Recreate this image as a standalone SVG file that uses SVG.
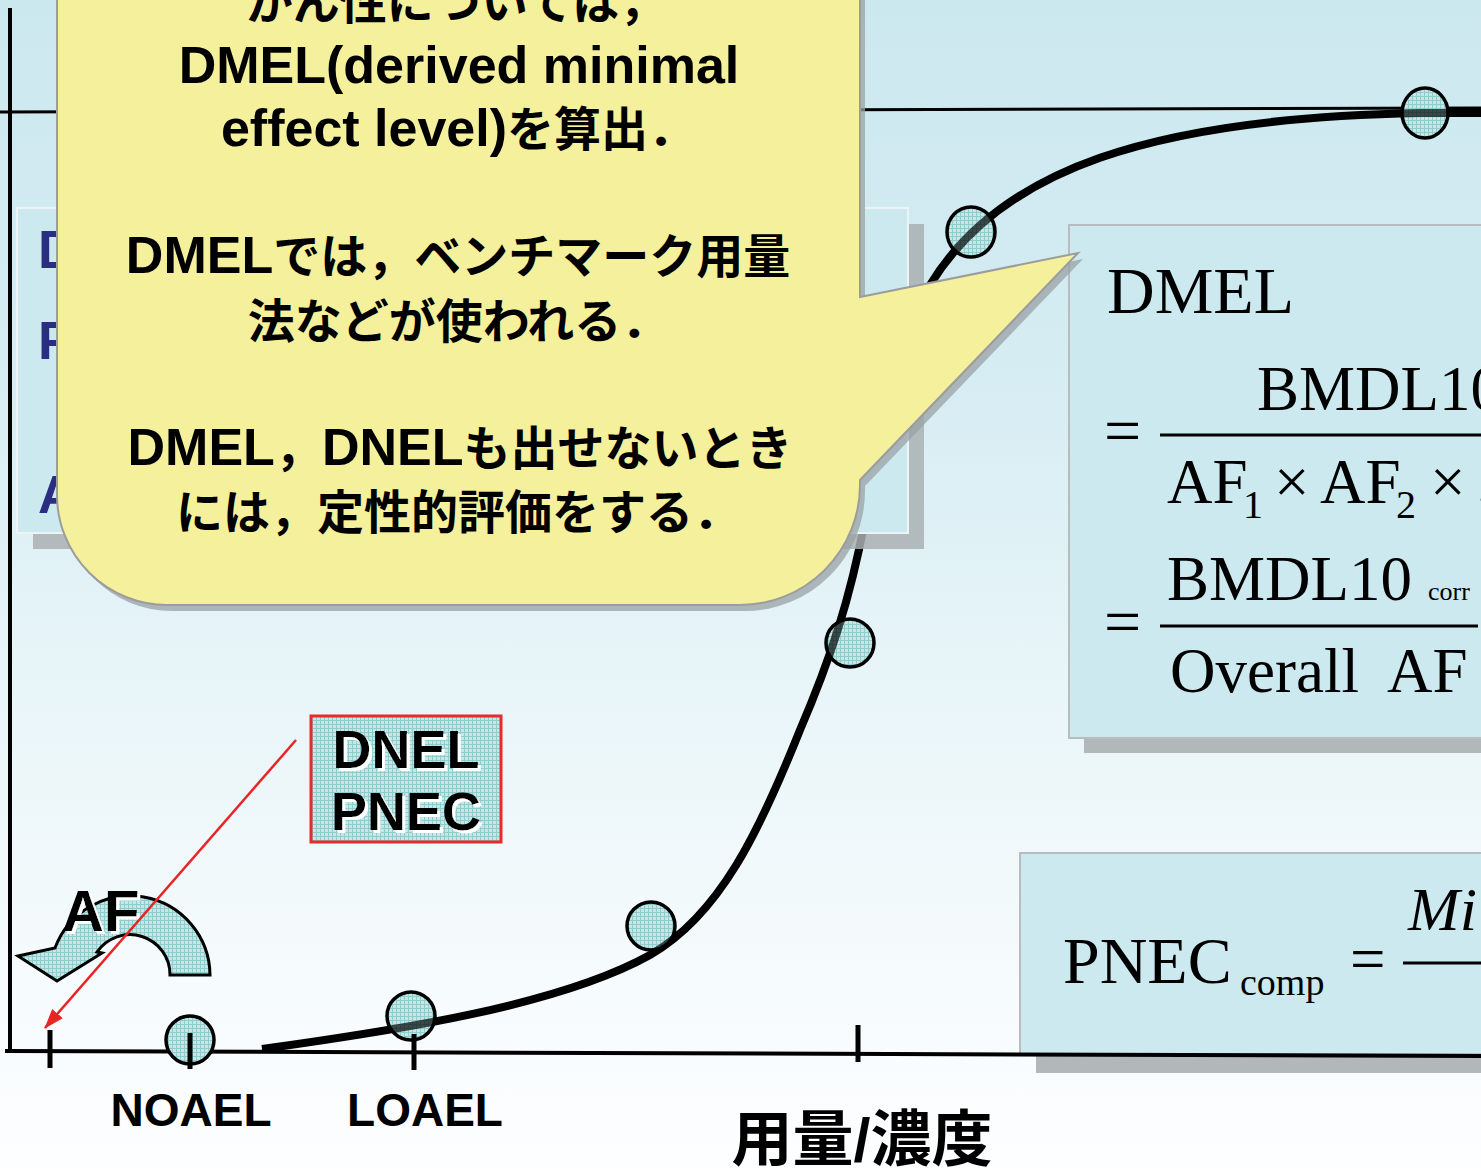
<svg xmlns="http://www.w3.org/2000/svg" width="1481" height="1168" viewBox="0 0 1481 1168">
<defs>
<linearGradient id="bg" x1="0" y1="0" x2="0" y2="1">
<stop offset="0" stop-color="#cce8ef"/>
<stop offset="0.3" stop-color="#d4ecf2"/>
<stop offset="0.55" stop-color="#e6f4f8"/>
<stop offset="0.8" stop-color="#f4fafc"/>
<stop offset="1" stop-color="#fdfeff"/>
</linearGradient>
<pattern id="chk" width="4" height="4" patternUnits="userSpaceOnUse">
<rect width="4" height="4" fill="#c6e7e7"/>
<rect width="4" height="1" fill="#8fcccc"/>
<rect width="1" height="4" fill="#8fcccc"/>
</pattern>
<filter id="whiteShadow" x="-10%" y="-10%" width="130%" height="130%">
<feDropShadow dx="3" dy="3" stdDeviation="0" flood-color="#ffffff" flood-opacity="1"/>
</filter>
<marker id="redhead" viewBox="0 0 20 14" markerWidth="20" markerHeight="14" refX="19" refY="7" orient="auto" markerUnits="userSpaceOnUse">
<path d="M0,0 L20,7 L0,14 Z" fill="#e82424"/>
</marker>
<style>
.ax { stroke:#000; stroke-width:4; fill:none; }
.tick { stroke:#000; stroke-width:5; }
.base { fill:url(#chk); }
.ovl { fill:url(#chk); fill-opacity:0.3; stroke:#000; stroke-width:3.5; }
.box { fill:#cde9f0; stroke:#b8bcbe; stroke-width:2; }
.shadow { fill:#b2b8ba; }
.bold { font-family:"Liberation Sans","Noto Sans CJK JP",sans-serif; font-weight:bold; }
.cj { font-size:47px; }
.serif { font-family:"Liberation Serif","Times New Roman",serif; fill:#000; }
.navy { fill:#2a2e82; }
</style>
</defs>

<rect x="0" y="0" width="1481" height="1168" fill="url(#bg)"/>

<g id="reference-line">
<line x1="0" y1="112" x2="1481" y2="108" stroke="#000" stroke-width="3"/>
</g>

<g id="pnec-box">
<rect class="shadow" x="1036" y="869" width="460" height="204"/>
<rect class="box" x="1020" y="853" width="470" height="201"/>
<text class="serif" x="1063" y="983" font-size="66">PNEC</text>
<text class="serif" x="1240" y="995" font-size="38">comp</text>
<text class="serif" x="1350" y="980" font-size="63">=</text>
<line x1="1403" y1="963" x2="1481" y2="963" stroke="#000" stroke-width="3"/>
<text class="serif" x="1408" y="930" font-size="62" font-style="italic">Mi</text>
</g>

<g id="axes">
<line class="ax" x1="10" y1="8" x2="10" y2="1053"/>
<line class="ax" x1="5" y1="1051" x2="1481" y2="1056"/>
</g>

<g id="points-base">
<ellipse class="base" cx="190" cy="1040" rx="24" ry="24"/>
<ellipse class="base" cx="411" cy="1016" rx="24" ry="24"/>
<ellipse class="base" cx="651" cy="926" rx="24" ry="24"/>
<ellipse class="base" cx="850" cy="643" rx="24" ry="24"/>
<ellipse class="base" cx="971" cy="232" rx="24" ry="25"/>
<ellipse class="base" cx="1425" cy="113" rx="23" ry="25"/>
</g>

<g id="connectors">
<path id="dose-response-curve" d="M262,1049 C400,1030 560,1005 650,955 C720,915 760,830 800,730 C830,660 850,600 865,520 C880,420 905,330 930,285 C1000,170 1150,118 1420,113 L1481,113" fill="none" stroke="#000" stroke-width="8"/>
</g>

<g id="points">
<ellipse class="ovl" cx="190" cy="1040" rx="24" ry="24"/>
<ellipse class="ovl" cx="411" cy="1016" rx="24" ry="24"/>
<ellipse class="ovl" cx="651" cy="926" rx="24" ry="24"/>
<ellipse class="ovl" cx="850" cy="643" rx="24" ry="24"/>
<ellipse class="ovl" cx="971" cy="232" rx="24" ry="25"/>
<ellipse class="ovl" cx="1425" cy="113" rx="23" ry="25"/>
</g>

<g id="ticks">
<line class="tick" x1="50" y1="1030" x2="50" y2="1068"/>
<line class="tick" x1="190" y1="1033" x2="190" y2="1069"/>
<line class="tick" x1="414" y1="1034" x2="414" y2="1070"/>
<line class="tick" x1="858" y1="1025" x2="858" y2="1062"/>
</g>

<g id="dmel-box">
<rect class="shadow" x="1084" y="240" width="420" height="513"/>
<rect class="box" x="1069" y="225" width="420" height="513"/>
<text class="serif" x="1107" y="313" font-size="66">DMEL</text>
<text class="serif" x="1257" y="410" font-size="63">BMDL10</text>
<text class="serif" x="1104" y="453" font-size="66">=</text>
<line x1="1160" y1="435" x2="1481" y2="435" stroke="#000" stroke-width="3"/>
<text class="serif" x="1167" y="503" font-size="63">AF</text>
<text class="serif" x="1243" y="518" font-size="40">1</text>
<text class="serif" x="1274" y="503" font-size="63">×</text>
<text class="serif" x="1320" y="503" font-size="63">AF</text>
<text class="serif" x="1396" y="518" font-size="40">2</text>
<text class="serif" x="1430" y="503" font-size="63">×</text>
<text class="serif" x="1474" y="503" font-size="63">…</text>
<text class="serif" x="1167" y="600" font-size="63">BMDL10</text>
<text class="serif" x="1428" y="600" font-size="26">corr</text>
<text class="serif" x="1104" y="644" font-size="66">=</text>
<line x1="1160" y1="626" x2="1478" y2="626" stroke="#000" stroke-width="3"/>
<text class="serif" x="1170" y="692" font-size="63">Overall&#160; AF</text>
</g>

<g id="left-box">
<rect x="33" y="224" width="891" height="325" fill="#a9b0b3" opacity="0.85"/>
<rect x="17" y="208" width="891" height="325" fill="#cde9f0" stroke="#eef3f5" stroke-width="2"/>
<text class="bold navy" x="38" y="268" font-size="53">D</text>
<text class="bold navy" x="38" y="359" font-size="53">P</text>
<text class="bold navy" x="38" y="513" font-size="53">A</text>
</g>

<g id="callout">
<path d="M57,-20 L860,-20 L860,297 L1078,253 L860,480 L860,485 A120,120 0 0 1 740,605 L167,605 A110,110 0 0 1 57,495 Z" fill="#9aa2a5" opacity="0.75" transform="translate(5,6)"/>
<path d="M57,-20 L860,-20 L860,297 L1078,253 L860,480 L860,485 A120,120 0 0 1 740,605 L167,605 A110,110 0 0 1 57,495 Z" fill="#f4f09c" stroke="#9c9c9c" stroke-width="2"/>
<g class="bold" font-size="52" text-anchor="middle" fill="#000">
<text x="456" y="19"><tspan class="cj">かん性については，</tspan></text>
<text x="459" y="83">DMEL(derived minimal</text>
<text x="458" y="146">effect level)<tspan class="cj">を算出．</tspan></text>
<text x="458" y="273">DMEL<tspan class="cj">では，ベンチマーク用量</tspan></text>
<text x="458" y="338"><tspan class="cj">法などが使われる．</tspan></text>
<text x="460" y="465">DMEL<tspan class="cj">，</tspan>DNEL<tspan class="cj">も出せないとき</tspan></text>
<text x="458" y="529"><tspan class="cj">には，定性的評価をする．</tspan></text>
</g>
</g>

<g id="dnel-pnec">
<rect x="311" y="716" width="190" height="126" fill="url(#chk)" stroke="#e82a2a" stroke-width="3"/>
<g class="bold" font-size="54" text-anchor="middle" fill="#000" filter="url(#whiteShadow)">
<text x="406" y="768">DNEL</text>
<text x="406" y="830">PNEC</text>
</g>
</g>

<g id="af-arrow">
<path d="M210,975 A80,80 0 0 0 55,948 L18,956 L57,981 L102,953 L97,952 A40,40 0 0 1 170,975 Z" fill="url(#chk)" stroke="#000" stroke-width="3" stroke-linejoin="miter"/>
<text class="bold" x="62" y="931" font-size="58" fill="#000" filter="url(#whiteShadow)">AF</text>
</g>

<g id="axis-labels" class="bold" fill="#000">
<text x="191" y="1126" font-size="46" text-anchor="middle">NOAEL</text>
<text x="425" y="1126" font-size="46" text-anchor="middle">LOAEL</text>
<text x="862" y="1161" font-size="61" text-anchor="middle">用量/濃度</text>
</g>

<g id="red-arrow">
<line x1="296" y1="740" x2="45" y2="1028" stroke="#e82424" stroke-width="2.5" marker-end="url(#redhead)"/>
</g>
</svg>
